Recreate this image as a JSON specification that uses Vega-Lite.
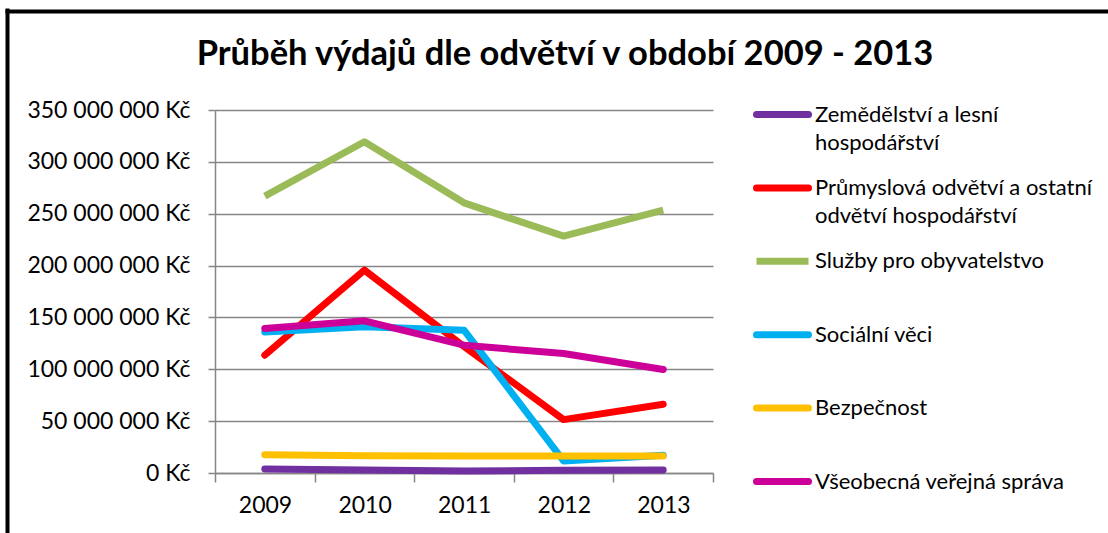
{
  "$schema": "https://vega.github.io/schema/vega-lite/v6.json",
  "width": 498,
  "height": 363,
  "autosize": {"type": "none"},
  "padding": {"left": 215, "top": 110, "right": 395, "bottom": 60},
  "background": "white",
  "title": {
    "text": "Průběh výdajů dle odvětví v období 2009 - 2013",
    "font": "Lato",
    "fontSize": 34.5,
    "fontWeight": "bold",
    "color": "black",
    "anchor": "middle",
    "dx": 101,
    "offset": -61
  },
  "config": {
    "font": "Lato",
    "view": {"stroke": null}
  },
  "data": {
    "values": [
      {"odvetvi": "Zemědělství a lesní hospodářství", "rok": 2009, "vydaje": 3900000},
      {"odvetvi": "Zemědělství a lesní hospodářství", "rok": 2010, "vydaje": 3000000},
      {"odvetvi": "Zemědělství a lesní hospodářství", "rok": 2011, "vydaje": 2000000},
      {"odvetvi": "Zemědělství a lesní hospodářství", "rok": 2012, "vydaje": 2600000},
      {"odvetvi": "Zemědělství a lesní hospodářství", "rok": 2013, "vydaje": 2900000},
      {"odvetvi": "Průmyslová odvětví a ostatní odvětví hospodářství", "rok": 2009, "vydaje": 113600000},
      {"odvetvi": "Průmyslová odvětví a ostatní odvětví hospodářství", "rok": 2010, "vydaje": 195600000},
      {"odvetvi": "Průmyslová odvětví a ostatní odvětví hospodářství", "rok": 2011, "vydaje": 122000000},
      {"odvetvi": "Průmyslová odvětví a ostatní odvětví hospodářství", "rok": 2012, "vydaje": 51500000},
      {"odvetvi": "Průmyslová odvětví a ostatní odvětví hospodářství", "rok": 2013, "vydaje": 66300000},
      {"odvetvi": "Služby pro obyvatelstvo", "rok": 2009, "vydaje": 267000000},
      {"odvetvi": "Služby pro obyvatelstvo", "rok": 2010, "vydaje": 319400000},
      {"odvetvi": "Služby pro obyvatelstvo", "rok": 2011, "vydaje": 260500000},
      {"odvetvi": "Služby pro obyvatelstvo", "rok": 2012, "vydaje": 228400000},
      {"odvetvi": "Služby pro obyvatelstvo", "rok": 2013, "vydaje": 253500000},
      {"odvetvi": "Sociální věci", "rok": 2009, "vydaje": 136000000},
      {"odvetvi": "Sociální věci", "rok": 2010, "vydaje": 141000000},
      {"odvetvi": "Sociální věci", "rok": 2011, "vydaje": 137700000},
      {"odvetvi": "Sociální věci", "rok": 2012, "vydaje": 11600000},
      {"odvetvi": "Sociální věci", "rok": 2013, "vydaje": 17000000},
      {"odvetvi": "Bezpečnost", "rok": 2009, "vydaje": 17700000},
      {"odvetvi": "Bezpečnost", "rok": 2010, "vydaje": 16600000},
      {"odvetvi": "Bezpečnost", "rok": 2011, "vydaje": 16400000},
      {"odvetvi": "Bezpečnost", "rok": 2012, "vydaje": 16400000},
      {"odvetvi": "Bezpečnost", "rok": 2013, "vydaje": 16400000},
      {"odvetvi": "Všeobecná veřejná správa", "rok": 2009, "vydaje": 139300000},
      {"odvetvi": "Všeobecná veřejná správa", "rok": 2010, "vydaje": 146700000},
      {"odvetvi": "Všeobecná veřejná správa", "rok": 2011, "vydaje": 123200000},
      {"odvetvi": "Všeobecná veřejná správa", "rok": 2012, "vydaje": 115200000},
      {"odvetvi": "Všeobecná veřejná správa", "rok": 2013, "vydaje": 99800000}
    ]
  },
  "layer": [
    {
      "encoding": {
        "x": {
          "field": "rok",
          "type": "quantitative",
          "scale": {"domain": [2008.5, 2013.5], "nice": false, "zero": false},
          "axis": {
            "title": null,
            "values": [2008.5, 2009.5, 2010.5, 2011.5, 2012.5, 2013.5],
            "labelExpr": "datum.value > 2013 ? '' : format(datum.value + 0.5, 'd')",
            "labelOffset": 50,
            "labelFlush": false,
            "labelOverlap": false,
            "grid": false,
            "tickSize": 9,
            "tickWidth": 1.5,
            "tickColor": "#868686",
            "domainColor": "#868686",
            "domainWidth": 1.5,
            "labelFontSize": 23,
            "labelColor": "black",
            "labelPadding": 12
          }
        },
        "y": {
          "field": "vydaje",
          "type": "quantitative",
          "scale": {"domain": [0, 350000000], "nice": false},
          "axis": {
            "title": null,
            "values": [0, 50000000, 100000000, 150000000, 200000000, 250000000, 300000000, 350000000],
            "labelExpr": "replace(replace(format(datum.value, ',d'), ',', ' '), ',', ' ') + ' Kč'",
            "grid": true,
            "gridColor": "#868686",
            "gridWidth": 1.5,
            "tickSize": 7,
            "tickWidth": 1.5,
            "tickColor": "#868686",
            "domainColor": "#868686",
            "domainWidth": 1.5,
            "labelFontSize": 23,
            "labelColor": "black",
            "labelPadding": 18
          }
        },
        "color": {
          "field": "odvetvi",
          "type": "nominal",
          "scale": {
            "domain": [
              "Zemědělství a lesní hospodářství",
              "Průmyslová odvětví a ostatní odvětví hospodářství",
              "Služby pro obyvatelstvo",
              "Sociální věci",
              "Bezpečnost",
              "Všeobecná veřejná správa"
            ],
            "range": ["#7030A0", "#FF0000", "#9BBB59", "#00B0F0", "#FFC000", "#CC0099"]
          },
          "legend": {
            "title": null,
            "orient": "none",
            "legendX": 538,
            "legendY": -25,
            "symbolType": "stroke",
            "symbolSize": 2704,
            "symbolStrokeWidth": 7,
            "rowPadding": 4.4,
            "labelFontSize": 22,
            "labelColor": "black",
            "labelLimit": 400,
            "labelOffset": 3,
            "labelExpr": "datum.label == 'Zemědělství a lesní hospodářství' ? ['Zemědělství a lesní', 'hospodářství'] : datum.label == 'Průmyslová odvětví a ostatní odvětví hospodářství' ? ['Průmyslová odvětví a ostatní', 'odvětví hospodářství'] : [datum.label, '']",
            "encode": {
              "labels": {"update": {"lineHeight": {"value": 28}}},
              "symbols": {"update": {"strokeCap": {"signal": "datum.value == 'Služby pro obyvatelstvo' ? 'butt' : 'round'"}}}
            }
          }
        }
      },
      "layer": [
        {
          "transform": [{"filter": "datum.odvetvi != 'Služby pro obyvatelstvo'"}],
          "mark": {"type": "line", "strokeWidth": 7, "strokeCap": "round", "strokeJoin": "round"}
        },
        {
          "transform": [{"filter": "datum.odvetvi == 'Služby pro obyvatelstvo'"}],
          "mark": {"type": "line", "strokeWidth": 7, "strokeCap": "butt", "strokeJoin": "round"}
        }
      ]
    },
    {
      "mark": {"type": "point", "opacity": 0},
      "encoding": {
        "x": {
          "datum": 0,
          "type": "quantitative",
          "scale": {"domain": [0, 1], "range": [-210, 900]},
          "axis": {"orient": "top", "offset": 99, "title": null, "labels": false, "ticks": false, "grid": false, "domainColor": "black", "domainWidth": 4}
        },
        "y": {
          "datum": 0,
          "type": "quantitative",
          "scale": {"domain": [0, 1], "range": [430, -102]},
          "axis": {"orient": "left", "offset": 208, "title": null, "labels": false, "ticks": false, "grid": false, "domainColor": "black", "domainWidth": 4}
        }
      }
    }
  ],
  "resolve": {"scale": {"x": "independent", "y": "independent"}}
}
